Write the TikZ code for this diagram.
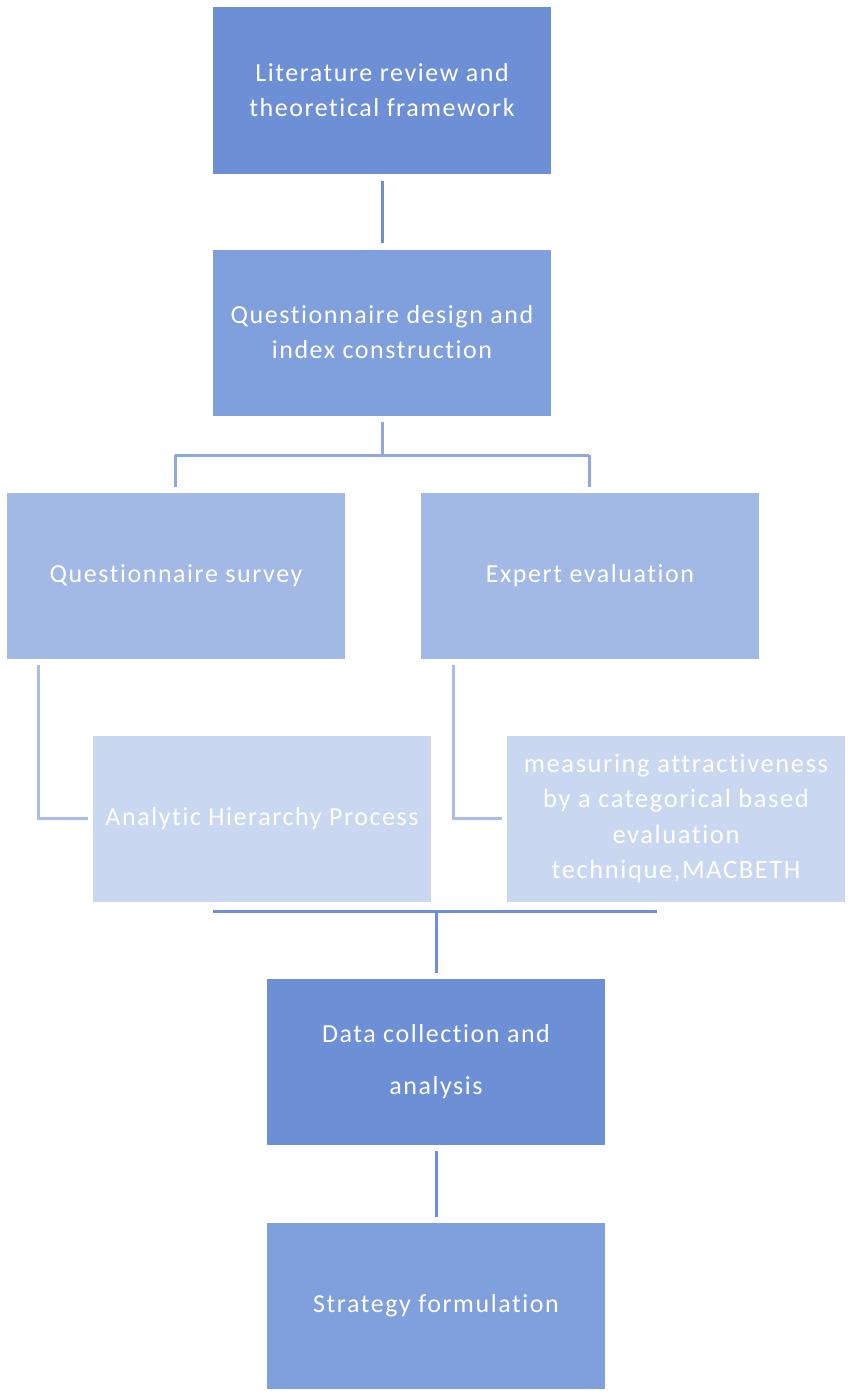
\documentclass[tikz,border=0pt]{standalone}
\usepackage{fontspec}
\setmainfont{Carlito}[LetterSpace=6,Ligatures={NoCommon}]
\begin{document}
\begin{tikzpicture}[x=1pt,y=-1pt,
  box/.style={draw=none,minimum width=338pt,minimum height=166pt,inner sep=0pt,
    text=white,align=center,font=\fontsize{26}{35}\selectfont},
  c1/.style={box,fill={rgb,255:red,109;green,143;blue,213}},
  c2/.style={box,fill={rgb,255:red,127;green,159;blue,221}},
  c3/.style={box,fill={rgb,255:red,162;green,185;blue,229}},
  c4/.style={box,fill={rgb,255:red,201;green,215;blue,240}},
  ln1/.style={line width=3pt,draw={rgb,255:red,109;green,143;blue,213}},
  ln2/.style={line width=3pt,draw={rgb,255:red,143;green,168;blue,222}},
  ln3/.style={line width=3pt,draw={rgb,255:red,170;green,189;blue,232}}]
\useasboundingbox (0,0) rectangle (851,1397);
\node[c1] (lit) at (382,90.5) {Literature review and\\theoretical framework};
\node[c2] (qd) at (382,332.5) {Questionnaire design and\\index construction};
\node[c3] (qs) at (176,575.5) {Questionnaire survey};
\node[c3] (ee) at (590,575.5) {Expert evaluation};
\node[c4] (ahp) at (262,818.5) {Analytic Hierarchy Process};
\node[c4,font=\fontsize{26.5}{35.5}\selectfont] (mac) at (676,818.5) {measuring attractiveness\\by a categorical based\\evaluation\\technique,MACBETH};
\node[c1,font=\fontsize{26}{52}\selectfont] (dc) at (436,1061.5) {Data collection and\\analysis};
\node[c2] (sf) at (436,1305.5) {Strategy formulation};
% connectors
\draw[ln1] ([yshift=-7pt]lit.south) -- ([yshift=6pt]qd.north);
\coordinate (j1) at (382,455);
\coordinate (jl) at (175,455);
\coordinate (jr) at (589,455);
\draw[ln2] ([yshift=-6pt]qd.south) -- (j1);
\draw[ln2] (jl) -- (jr);
\draw[ln2] (jl) -- (175,487);
\draw[ln2] (jr) -- (589,487);
\draw[ln3] (38,665) |- ([xshift=-5pt]ahp.west);
\draw[ln3] (453,665) |- ([xshift=-5pt]mac.west);
\coordinate (bl) at (213,911);
\coordinate (br) at (657,911);
\draw[ln1] (bl) -- (br);
\draw[ln1] (dc.north |- bl) -- ([yshift=5pt]dc.north);
\draw[ln1] ([yshift=-6pt]dc.south) -- ([yshift=5pt]sf.north);
\end{tikzpicture}
\end{document}
